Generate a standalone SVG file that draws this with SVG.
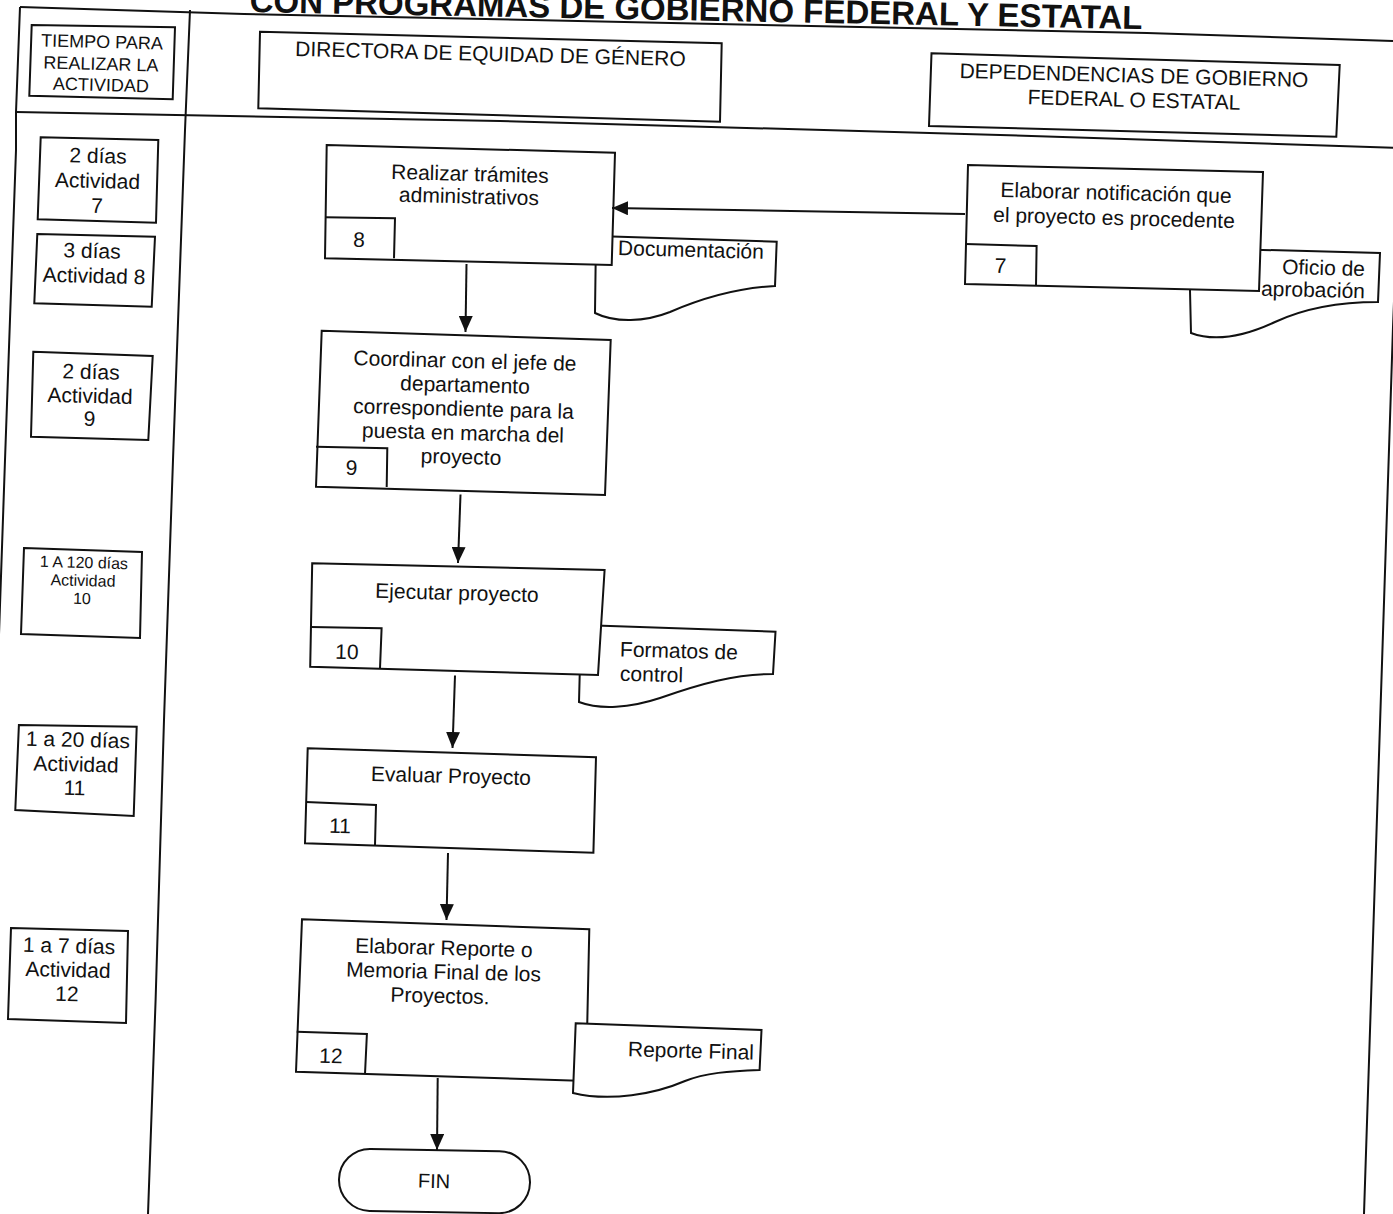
<svg xmlns="http://www.w3.org/2000/svg" width="1393" height="1214" viewBox="0 0 1393 1214">
<defs>
<style>
.ln{fill:none;stroke:#111;stroke-width:2}
.bx{fill:#fff;stroke:#111;stroke-width:2;stroke-linejoin:miter}
.sb{fill:none;stroke:#111;stroke-width:2}
.cn{fill:none;stroke:#111;stroke-width:2;marker-end:url(#ah)}
text{font-family:"Liberation Sans",Arial,Helvetica,sans-serif;fill:#111;font-size:21px;text-anchor:middle;transform-box:fill-box;transform-origin:center;transform:rotate(1.5deg)}
.s{font-size:18px}
.xs{font-size:16px}
.st{text-anchor:start}
.en{text-anchor:end}
.ttl{font-size:33px;font-weight:bold;transform:rotate(1.1deg)}
</style>
<marker id="ah" viewBox="0 0 16 14" refX="16" refY="7" markerWidth="16" markerHeight="14" markerUnits="userSpaceOnUse" orient="auto">
<path d="M0,0 L16,7 L0,14 Z" fill="#111"/>
</marker>
</defs>
<rect x="0" y="0" width="1393" height="1214" fill="#fff"/>

<g id="frame">
<polyline class="ln" points="20,7 244,14 1147,33 1393,41"/>
<polyline class="ln" points="20,7 16,112 16,150 5,460 -6,780"/>
<polyline class="ln" points="190,10 185,130 173,460 164,720 155.6,1000 148,1214"/>
<polyline class="ln" points="16,112 500,121 1000,135 1400,148"/>
<polyline class="ln" points="1400,148 1393,327 1364,1214"/>
<text class="ttl" x="696" y="20.5">CON PROGRAMAS DE GOBIERNO FEDERAL Y ESTATAL</text>
</g>

<g id="hdr-tiempo">
<polygon class="bx" points="31.7,25 175,27.3 172.7,99.3 29.3,95.7"/>
<text class="s" x="102" y="48">TIEMPO PARA</text>
<text class="s" x="101" y="70">REALIZAR LA</text>
<text class="s" x="101" y="91">ACTIVIDAD</text>
</g>

<g id="hdr-directora">
<polygon class="bx" points="260,31.7 721.7,43.3 720,121.7 258.3,108.3"/>
<text x="490.5" y="61">DIRECTORA DE EQUIDAD DE GÉNERO</text>
</g>

<g id="hdr-dependencias">
<polygon class="bx" points="931.5,53.3 1339.7,65 1336.3,136.7 929,126"/>
<text x="1134" y="82.5">DEPEDENDENCIAS DE GOBIERNO</text>
<text x="1134" y="107">FEDERAL O ESTATAL</text>
</g>

<g id="time-7">
<polygon class="bx" points="40.7,137.3 158.3,140 156,222.7 37.7,219.3"/>
<text x="98" y="163">2 días</text>
<text x="97.5" y="188">Actividad</text>
<text x="97" y="213">7</text>
</g>
<g id="time-8">
<polygon class="bx" points="37.3,234 155,236.7 151.7,306.7 34.3,303.3"/>
<text x="92" y="258">3 días</text>
<text x="94" y="283">Actividad 8</text>
</g>
<g id="time-9">
<polygon class="bx" points="33.3,351.7 152.7,356 148.3,440 31,436.7"/>
<text x="91" y="379">2 días</text>
<text x="90" y="403">Actividad</text>
<text x="89.5" y="426">9</text>
</g>
<g id="time-10">
<polygon class="bx" points="24,548 142,552 140,638 21,634"/>
<text class="xs" x="84" y="568">1 A 120 días</text>
<text class="xs" x="83" y="586">Actividad</text>
<text class="xs" x="82" y="604">10</text>
</g>
<g id="time-11">
<polygon class="bx" points="18.9,725 136.7,726.7 133.7,816 15.3,810"/>
<text x="78" y="747">1 a 20 días</text>
<text x="76" y="771.5">Actividad</text>
<text x="74.5" y="795">11</text>
</g>
<g id="time-12">
<polygon class="bx" points="11,928 128,931 126,1023 8,1019"/>
<text x="69" y="953">1 a 7 días</text>
<text x="68" y="977">Actividad</text>
<text x="67" y="1001">12</text>
</g>

<g id="doc-documentacion">
<path class="bx" d="M596,236 L776.7,241.7 L775,286 C735,288 700,299 670,312 C645,322 615,323 595,313 Z"/>
<text class="st" x="618" y="257">Documentación</text>
</g>
<g id="act-8">
<polygon class="bx" points="326.7,145 615,152.7 611.7,265 325,258.3"/>
<polyline class="sb" points="325,217.3 395,218.3 394,258.3"/>
<text x="359" y="247">8</text>
<text x="470" y="181">Realizar trámites</text>
<text x="469" y="203.5">administrativos</text>
</g>

<g id="doc-oficio">
<path class="bx" d="M1189,248 L1380,253 L1378,302 C1340,302 1305,308 1275,322 C1245,336 1215,342 1191,333 Z"/>
<text class="en" x="1365" y="275">Oficio de</text>
<text class="en" x="1365" y="297">aprobación</text>
</g>
<g id="act-7">
<polygon class="bx" points="968,165 1263,172 1259,291 965,284"/>
<polyline class="sb" points="965.6,244 1036.6,246 1036,286"/>
<text x="1000.5" y="273">7</text>
<text x="1116" y="200">Elaborar notificación que</text>
<text x="1114" y="225">el proyecto es procedente</text>
</g>

<g id="act-9">
<polygon class="bx" points="321.7,330.7 610.7,340 605,495 316,486.7"/>
<polyline class="sb" points="316,446.7 387.3,448.3 386.7,487"/>
<text x="351.5" y="475">9</text>
<text x="465" y="368">Coordinar con el jefe de</text>
<text x="465" y="392">departamento</text>
<text x="463.5" y="416">correspondiente para la</text>
<text x="463" y="440">puesta en marcha del</text>
<text x="461" y="464">proyecto</text>
</g>

<g id="doc-formatos">
<path class="bx" d="M581,625 L775.5,631.7 L773,674 C735,674 700,684 660,698 C630,708 600,710 579,702 Z"/>
<text class="st" x="620" y="658">Formatos de</text>
<text class="st" x="620" y="681.5">control</text>
</g>
<g id="act-10">
<polygon class="bx" points="312.2,563.3 604.6,570 598,675 310.2,666.7"/>
<polyline class="sb" points="311,627 381.6,628.3 380,668.3"/>
<text x="347" y="659">10</text>
<text x="457" y="600">Ejecutar proyecto</text>
</g>

<g id="act-11">
<polygon class="bx" points="307.7,748.3 596,757.3 593.4,852.7 305,843.3"/>
<polyline class="sb" points="306,802 376,805 375,845"/>
<text x="340" y="833">11</text>
<text x="451" y="783">Evaluar Proyecto</text>
</g>

<g id="act-12">
<polygon class="bx" points="302,919.3 589.3,929.3 586,1081 296,1071.7"/>
<polyline class="sb" points="296.7,1031.7 366.9,1034 365,1074"/>
<text x="331" y="1063">12</text>
<text x="444" y="955">Elaborar Reporte o</text>
<text x="443.5" y="979">Memoria Final de los</text>
<text x="440" y="1003">Proyectos.</text>
</g>
<g id="doc-reporte">
<path class="bx" d="M575.7,1023.3 L761.5,1030 L759.6,1070 C729,1071 705,1073 685,1081 C655,1094 610,1102 573,1093 Z"/>
<text class="en" x="754" y="1058">Reporte Final</text>
</g>

<g id="fin">
<rect class="bx" x="339" y="1150" width="191" height="62" rx="31" ry="31" transform="rotate(1 434 1181)"/>
<text class="s" style="font-size:20px" x="434" y="1188">FIN</text>
</g>

<g id="connectors">
<line class="cn" x1="965" y1="214" x2="612" y2="208"/>
<line class="cn" x1="466.5" y1="264" x2="465.5" y2="332"/>
<line class="cn" x1="460.5" y1="494.5" x2="458" y2="563"/>
<line class="cn" x1="455" y1="675.5" x2="452.5" y2="748"/>
<line class="cn" x1="448" y1="853" x2="446.5" y2="920"/>
<line class="cn" x1="437.7" y1="1078" x2="437" y2="1150"/>
</g>
</svg>
